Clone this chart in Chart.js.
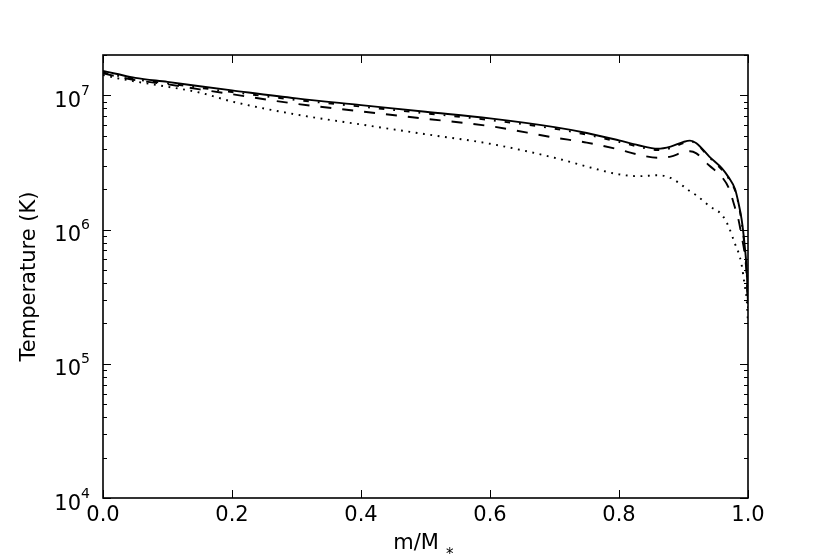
<!DOCTYPE html>
<html><head><meta charset="utf-8">
<script src="https://cdn.jsdelivr.net/npm/chart.js@4.4.0/dist/chart.umd.min.js"></script>
<style>html,body{margin:0;padding:0;background:#fff;}#wrap{width:830px;height:554px;}</style>
</head><body><div id="wrap"><canvas id="c" width="830" height="554"></canvas></div>
<script>
// ---- data ----
const massFraction = [0, 0.02, 0.05, 0.1, 0.15, 0.2, 0.3, 0.4, 0.5, 0.6, 0.7, 0.75, 0.8, 0.83, 0.86, 0.88, 0.9, 0.91, 0.92, 0.94, 0.96, 0.97, 0.98, 0.985, 0.99, 0.995, 0.998, 1.0];
const tempSolid   = [1.52e7, 1.45e7, 1.35e7, 1.26e7, 1.17e7, 1.09e7, 9.5e6, 8.47e6, 7.55e6, 6.74e6, 5.8e6, 5.25e6, 4.62e6, 4.25e6, 4.0e6, 4.15e6, 4.5e6, 4.6e6, 4.4e6, 3.5e6, 2.85e6, 2.45e6, 2.0e6, 1.6e6, 1.2e6, 7.5e5, 5e5, 2.8e5];
const tempDashDot = [1.48e7, 1.41e7, 1.32e7, 1.23e7, 1.14e7, 1.06e7, 9.25e6, 8.25e6, 7.35e6, 6.55e6, 5.65e6, 5.1e6, 4.5e6, 4.15e6, 3.92e6, 4.05e6, 4.42e6, 4.55e6, 4.35e6, 3.45e6, 2.78e6, 2.4e6, 1.95e6, 1.57e6, 1.15e6, 7.2e5, 4.8e5, 2.7e5];
const tempDashed  = [1.46e7, 1.39e7, 1.3e7, 1.21e7, 1.11e7, 1.02e7, 8.65e6, 7.6e6, 6.7e6, 5.9e6, 4.85e6, 4.45e6, 3.95e6, 3.62e6, 3.43e6, 3.5e6, 3.78e6, 3.84e6, 3.7e6, 3.0e6, 2.45e6, 2.05e6, 1.45e6, 1.2e6, 9e5, 6.5e5, 4.5e5, 2.6e5];
const tempDotted  = [1.42e7, 1.35e7, 1.27e7, 1.16e7, 1.05e7, 9.0e6, 7.2e6, 6.07e6, 5.14e6, 4.36e6, 3.43e6, 2.95e6, 2.58e6, 2.5e6, 2.54e6, 2.43e6, 2.1e6, 1.93e6, 1.8e6, 1.5e6, 1.28e6, 1.05e6, 7.8e5, 6.8e5, 5.5e5, 3.8e5, 3e5, 2e5];
const xTickValues = [0, 0.2, 0.4, 0.6, 0.8, 1.0];
const yDecades = [4, 5, 6, 7];
const xTitle = 'm/M';
const xTitleSub = '*';
const yTitle = 'Temperature (K)';

const FONT = '"DejaVu Sans", sans-serif';
const pts = arr => massFraction.map((m, i) => ({x: m, y: arr[i]}));

const framePlugin = {
  id: 'frame',
  afterDraw(chart) {
    const {ctx, chartArea: a, scales: {x, y}} = chart;
    ctx.save();
    ctx.strokeStyle = '#000';
    ctx.lineWidth = 1;
    const seg = (x1, y1, x2, y2) => { ctx.beginPath(); ctx.moveTo(x1, y1); ctx.lineTo(x2, y2); ctx.stroke(); };
    xTickValues.forEach(v => {
      const px = Math.round(x.getPixelForValue(v)) + 0.5;
      seg(px, a.bottom, px, a.bottom - 8);
      seg(px, a.top, px, a.top + 8);
    });
    yDecades.forEach(d => {
      for (let k = 1; k <= 9; k++) {
        const v = k * Math.pow(10, d);
        if (v < y.min || v > y.max) continue;
        const py = Math.round(y.getPixelForValue(v)) + 0.5;
        const L = k === 1 ? 8 : 4;
        seg(a.left, py, a.left + L, py);
        seg(a.right, py, a.right - L, py);
      }
    });
    ctx.lineWidth = 1.6;
    ctx.strokeRect(a.left, a.top, a.right - a.left, a.bottom - a.top);
    // y tick labels with superscripts
    ctx.fillStyle = '#000';
    ctx.textBaseline = 'alphabetic';
    ctx.textAlign = 'right';
    yDecades.forEach(d => {
      const py = y.getPixelForValue(Math.pow(10, d));
      ctx.font = '14px ' + FONT;
      const sup = String(d);
      const ws = ctx.measureText(sup).width;
      ctx.fillText(sup, 90, py - 0.5);
      ctx.font = '21px ' + FONT;
      ctx.fillText('10', 90 - ws, py + 11.5);
    });
    // x title
    ctx.font = '21px ' + FONT;
    ctx.textAlign = 'center';
    ctx.fillText(xTitle, 416, 549);
    ctx.font = '15px ' + FONT;
    ctx.textAlign = 'left';
    ctx.fillText(xTitleSub, 446, 559);
    // y title
    ctx.translate(35, (a.top + a.bottom) / 2);
    ctx.rotate(-Math.PI / 2);
    ctx.font = '21px ' + FONT;
    ctx.textAlign = 'center';
    ctx.fillText(yTitle, 0, 0);
    ctx.restore();
  }
};

const common = {borderColor: '#000', borderWidth: 1.9, pointRadius: 0, fill: false, cubicInterpolationMode: 'monotone', borderCapStyle: 'butt'};

new Chart(document.getElementById('c'), {
  type: 'line',
  data: {
    datasets: [
      Object.assign({label: 'solid', data: pts(tempSolid), borderDash: []}, common),
      Object.assign({label: 'dash-dot', data: pts(tempDashDot), borderDash: [5.5, 9, 1.8, 9]}, common),
      Object.assign({label: 'dashed', data: pts(tempDashed), borderDash: [11, 11]}, common),
      Object.assign({label: 'dotted', data: pts(tempDotted), borderDash: [1.8, 5.6]}, common)
    ]
  },
  options: {
    responsive: false,
    animation: false,
    devicePixelRatio: 1,
    layout: {padding: {left: 0, top: 55, right: 82, bottom: 0}},
    plugins: {legend: {display: false}, tooltip: {enabled: false}},
    scales: {
      x: {
        type: 'linear', min: 0, max: 1,
        grid: {display: false, drawTicks: false},
        border: {display: false},
        afterFit: s => { s.height = 56; },
        afterBuildTicks: s => { s.ticks = xTickValues.map(v => ({value: v})); },
        ticks: {
          color: '#000', padding: 5, maxRotation: 0, autoSkip: false,
          font: {family: FONT, size: 21},
          callback: v => Number(v).toFixed(1)
        }
      },
      y: {
        type: 'logarithmic', min: 1e4, max: 2e7,
        grid: {display: false, drawTicks: false},
        border: {display: false},
        ticks: {display: false},
        afterFit: s => { s.width = 103; }
      }
    }
  },
  plugins: [framePlugin]
});
</script></body></html>
